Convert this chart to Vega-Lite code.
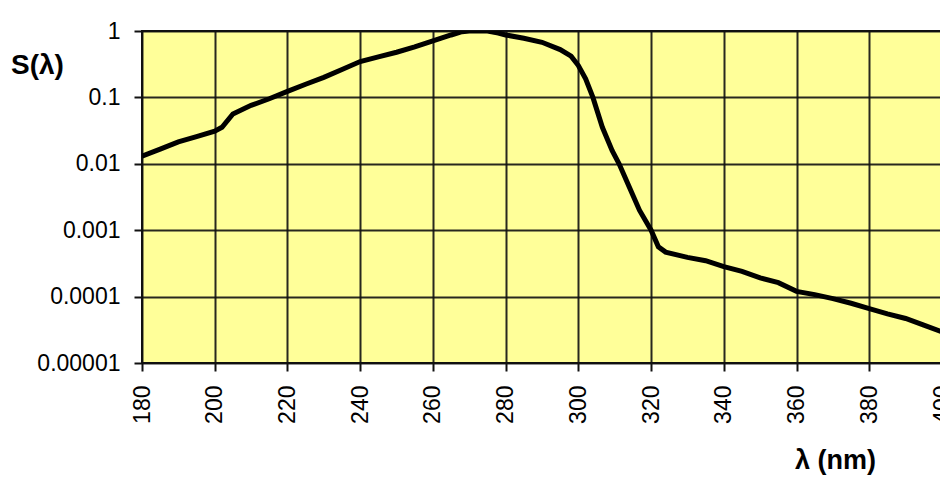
{
  "$schema": "https://vega.github.io/schema/vega-lite/v6.json",
  "width": 800,
  "height": 332,
  "autosize": {"type": "none"},
  "padding": {"left": 142, "top": 31, "right": -2, "bottom": 117},
  "background": "white",
  "config": {
    "view": {"fill": "#FFFF99", "stroke": "#111111", "strokeWidth": 2},
    "font": "Liberation Sans"
  },
  "data": {
    "values": [
      {"wavelength": 180, "S": 0.0130},
      {"wavelength": 185, "S": 0.0166},
      {"wavelength": 190, "S": 0.0214},
      {"wavelength": 195, "S": 0.0257},
      {"wavelength": 200, "S": 0.0309},
      {"wavelength": 202, "S": 0.0355},
      {"wavelength": 205, "S": 0.0562},
      {"wavelength": 210, "S": 0.0759},
      {"wavelength": 215, "S": 0.0955},
      {"wavelength": 220, "S": 0.123},
      {"wavelength": 225, "S": 0.158},
      {"wavelength": 230, "S": 0.200},
      {"wavelength": 235, "S": 0.263},
      {"wavelength": 240, "S": 0.347},
      {"wavelength": 245, "S": 0.407},
      {"wavelength": 250, "S": 0.479},
      {"wavelength": 255, "S": 0.575},
      {"wavelength": 260, "S": 0.708},
      {"wavelength": 265, "S": 0.871},
      {"wavelength": 268, "S": 0.977},
      {"wavelength": 270, "S": 1.0},
      {"wavelength": 275, "S": 1.0},
      {"wavelength": 278, "S": 0.933},
      {"wavelength": 280, "S": 0.871},
      {"wavelength": 285, "S": 0.776},
      {"wavelength": 290, "S": 0.676},
      {"wavelength": 295, "S": 0.525},
      {"wavelength": 298, "S": 0.417},
      {"wavelength": 300, "S": 0.302},
      {"wavelength": 302, "S": 0.19},
      {"wavelength": 304, "S": 0.1},
      {"wavelength": 306.6, "S": 0.0355},
      {"wavelength": 309.3, "S": 0.0158},
      {"wavelength": 311.2, "S": 0.01},
      {"wavelength": 314, "S": 0.00447},
      {"wavelength": 316.8, "S": 0.002},
      {"wavelength": 320, "S": 0.001},
      {"wavelength": 322, "S": 0.000562},
      {"wavelength": 324, "S": 0.000468},
      {"wavelength": 330, "S": 0.000389},
      {"wavelength": 335, "S": 0.000347},
      {"wavelength": 340, "S": 0.000282},
      {"wavelength": 345, "S": 0.00024},
      {"wavelength": 350, "S": 0.000191},
      {"wavelength": 355, "S": 0.000162},
      {"wavelength": 360, "S": 0.00012},
      {"wavelength": 365, "S": 0.000107},
      {"wavelength": 370, "S": 0.0000933},
      {"wavelength": 375, "S": 0.0000794},
      {"wavelength": 380, "S": 0.0000661},
      {"wavelength": 385, "S": 0.000055},
      {"wavelength": 390, "S": 0.0000468},
      {"wavelength": 395, "S": 0.0000372},
      {"wavelength": 400, "S": 0.0000295}
    ]
  },
  "mark": {"type": "line", "color": "black", "strokeWidth": 5, "clip": true},
  "encoding": {
    "x": {
      "field": "wavelength",
      "type": "quantitative",
      "scale": {"domain": [180, 400], "nice": false, "zero": false},
      "axis": {
        "values": [180, 200, 220, 240, 260, 280, 300, 320, 340, 360, 380, 400],
        "labelAngle": -90,
        "labelAlign": "right",
        "labelBaseline": "middle",
        "labelFontSize": 23,
        "labelColor": "black",
        "labelPadding": 14,
        "labelOverlap": false,
        "labelBound": false,
        "labelFlush": false,
        "tickSize": 8,
        "tickColor": "#111111",
        "tickWidth": 2,
        "domain": false,
        "grid": true,
        "gridColor": "#111111",
        "gridWidth": 2,
        "gridOpacity": 0.9,
        "title": "λ (nm)",
        "titleFontSize": 27,
        "titleFontWeight": "bold",
        "titleColor": "black",
        "titleX": 693,
        "titleY": 97,
        "titleAlign": "center",
        "titleBaseline": "middle"
      }
    },
    "y": {
      "field": "S",
      "type": "quantitative",
      "scale": {"type": "log", "domain": [0.00001, 1], "nice": false},
      "axis": {
        "values": [1, 0.1, 0.01, 0.001, 0.0001, 0.00001],
        "labelExpr": "format(datum.value, '.5~f')",
        "labelFontSize": 23,
        "labelColor": "black",
        "labelPadding": 14,
        "labelOverlap": false,
        "labelBound": false,
        "labelFlush": false,
        "tickSize": 8,
        "tickColor": "#111111",
        "tickWidth": 2,
        "domain": false,
        "grid": true,
        "gridColor": "#111111",
        "gridWidth": 2,
        "gridOpacity": 0.9,
        "title": "S(λ)",
        "titleAngle": 0,
        "titleFontSize": 28,
        "titleFontWeight": "bold",
        "titleColor": "black",
        "titleX": -105,
        "titleY": 34,
        "titleAlign": "center",
        "titleBaseline": "middle"
      }
    }
  }
}
